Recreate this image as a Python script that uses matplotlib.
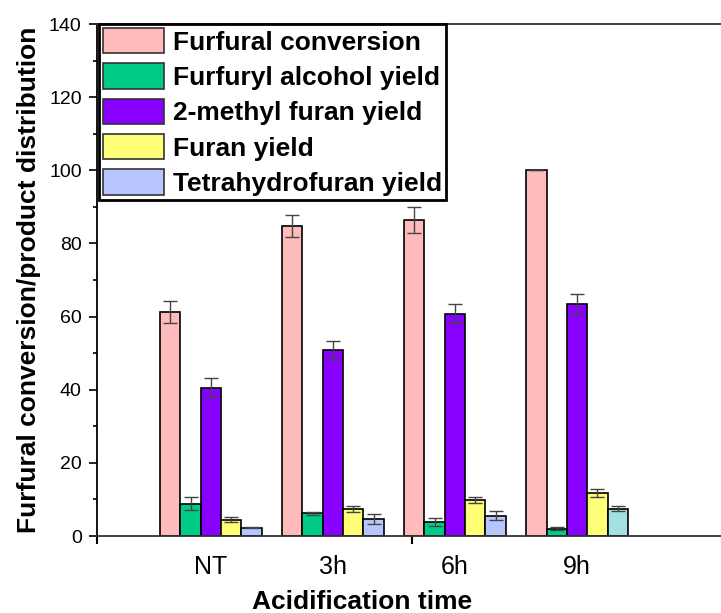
import numpy as np
import matplotlib
matplotlib.use("Agg")
import matplotlib.pyplot as plt

plt.rcParams['font.family'] = ['Liberation Sans', 'DejaVu Sans']

times = ['NT', '3h', '6h', '9h']
series = ['Furfural conversion', 'Furfuryl alcohol yield', '2-methyl furan yield',
          'Furan yield', 'Tetrahydrofuran yield']

conversion = [61.3, 84.9, 86.4, 100.0]
conversion_err = [3.0, 3.0, 3.6, 0.0]
fa_yield = [8.8, 6.2, 3.8, 2.0]
fa_err = [1.8, 0.5, 1.0, 0.4]
mf_yield = [40.6, 50.9, 60.8, 63.4]
mf_err = [2.5, 2.5, 2.6, 2.8]
furan_yield = [4.5, 7.4, 9.8, 11.8]
furan_err = [0.6, 0.9, 0.9, 1.0]
thf_yield = [2.3, 4.6, 5.6, 7.5]
thf_err = [0.1, 1.4, 1.2, 0.6]

values = [conversion, fa_yield, mf_yield, furan_yield, thf_yield]
errors = [conversion_err, fa_err, mf_err, furan_err, thf_err]
colors = ['#FFBBBB', '#00CC88', '#8800FF', '#FFFF77',
          ['#B8C6FF', '#B8C6FF', '#B8C6FF', '#A2E0E6']]

fig = plt.figure(figsize=(7.21, 6.13), dpi=100)
ax = fig.add_axes([0.1345, 0.1256, 0.8655, 0.8352])

x = np.arange(len(times))
w = 1 / 6.
for k in range(5):
    ax.bar(x + (k - 2) * w, values[k], width=w, color=colors[k], edgecolor='black',
           linewidth=1.2, label=series[k], zorder=2)
    ax.errorbar(x + (k - 2) * w, values[k], yerr=errors[k], fmt='none', ecolor='#444444',
                elinewidth=1, capsize=5, capthick=1, zorder=3)

ax.set_xlim(-0.934, 4.18)
ax.set_ylim(0, 140)
ax.set_yticks(np.arange(0, 141, 20))
ax.set_yticks(np.arange(10, 140, 20), minor=True)
ax.set_xticks(x)
ax.set_xticklabels(times)
ax.set_xticks([-0.934, 1.648], minor=True)
ax.tick_params(axis='y', which='major', length=6, width=1.2, labelsize=14, pad=5)
ax.tick_params(axis='y', which='minor', length=3, width=1.2)
ax.tick_params(axis='x', which='major', length=0, labelsize=18, pad=14)
ax.tick_params(axis='x', which='minor', length=6, width=1.5)

ax.spines['right'].set_visible(False)
for s in ['left', 'bottom', 'top']:
    ax.spines[s].set_linewidth(1.3)
ax.spines['left'].set_color('black')
ax.spines['top'].set_color('#333333')
ax.spines['bottom'].set_color('#333333')

ax.set_ylabel('Furfural conversion/product distribution', fontsize=19, fontweight='bold')
ax.yaxis.set_label_coords(-0.09, 0.5)
ax.set_xlabel('Acidification time', fontsize=19, fontweight='bold')
ax.xaxis.set_label_coords(0.4247, -0.106)
ax.xaxis.label.set_va('top')

leg = ax.legend(loc='upper left', bbox_to_anchor=(0.004, 1.0), borderaxespad=0,
                prop={'size': 19, 'weight': 'bold'}, fancybox=False, framealpha=1,
                edgecolor='black', handlelength=2.3, handleheight=1.1,
                handletextpad=0.35, labelspacing=0.33, borderpad=0.15)
leg.get_frame().set_linewidth(2)
for h in leg.legend_handles:
    h.set_edgecolor('#333333')

fig.savefig('out.png', dpi=100)
